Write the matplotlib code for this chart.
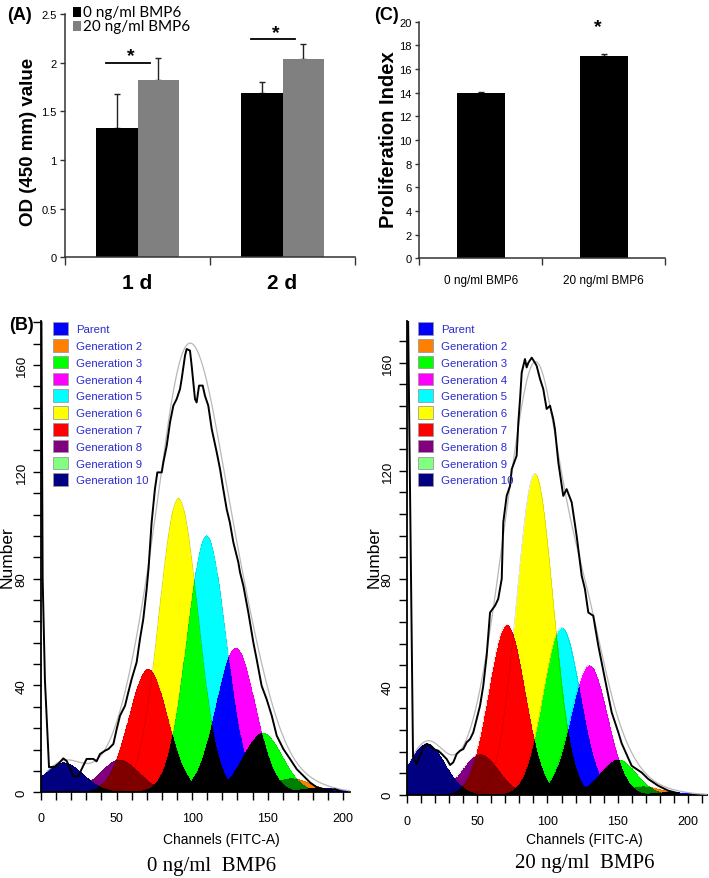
import numpy as np
import matplotlib
matplotlib.use("Agg")
import matplotlib.pyplot as plt
from matplotlib.patches import Patch, Rectangle
from matplotlib.ticker import MultipleLocator

W, H = 709, 879

# ---------------- panel A: OD values
days = ["1 d", "2 d"]
od_ctrl = [1.33, 1.69]
od_ctrl_err = [0.35, 0.11]
od_bmp6 = [1.82, 2.04]
od_bmp6_err = [0.23, 0.15]
sig_y = [2.0, 2.24]
series_names = ["0 ng/ml BMP6", "20 ng/ml BMP6"]

# ---------------- panel C: proliferation index
groups = ["0 ng/ml BMP6", "20 ng/ml BMP6"]
prolif_index = [13.97, 17.13]
prolif_err = [0.05, 0.12]

# ---------------- panel B: generation peaks (ModFit)
gen_names = ["Parent", "Generation 2", "Generation 3", "Generation 4", "Generation 5",
             "Generation 6", "Generation 7", "Generation 8", "Generation 9", "Generation 10"]
gen_colors = ["#0000ff", "#ff8000", "#00ff00", "#ff00ff", "#00ffff",
              "#ffff00", "#ff0000", "#800080", "#80ff80", "#000080"]
centers_0 = [185, 166, 147, 129, 109.6, 91, 71, 52, 33, 15]
heights_0 = [1.5, 5, 22, 54, 96, 110, 46, 12, 2, 11]
centers_20 = [187, 168, 150, 129.5, 110, 91, 71, 52, 33, 14.2]
heights_20 = [1, 3, 13, 48, 62, 119, 63, 15, 2, 19]
peak_sd = 13.0

# measured histogram (black line)
hist_ch_0 = [0.3, 1.1, 2.6, 5.3, 9.3, 12, 14.8, 17, 21.4, 24.7, 26.9, 30.2, 34.6, 36.8, 39, 42.4,
             44.6, 47.9, 50.1, 52.3, 55.6, 57.8, 60, 63.3, 65.5, 67.7, 69.9, 71.2, 73.2, 75.4, 77,
             79.9, 81, 83.2, 85.4, 87.6, 89.8, 92, 93.1, 95.3, 96.4, 98.6, 99.7, 101.9, 103, 104.6,
             107, 108.5, 110.7, 113, 116.3, 118.5, 120.6, 122.9, 125, 127.3, 130.6, 131.7, 133.9,
             137.2, 140.5, 142.7, 146, 149.3, 152.7, 156, 160.4, 164.8, 169.2, 173.6, 178, 182.4,
             189, 194.6, 198]
hist_n_0 = [176, 80, 42, 9.4, 9.6, 11, 12.7, 11.7, 6.2, 6, 8.7, 12.5, 12.5, 11.6, 14.3, 15.6,
            16.2, 18.1, 23.7, 28.7, 32.4, 37.5, 42.4, 48.7, 57.4, 64.9, 76, 84, 101, 113.6, 119.8,
            119.8, 123.6, 129.8, 138.6, 144.8, 147.3, 151, 154.8, 163.5, 166, 165.4, 159.8, 147.3,
            146, 152.3, 152.3, 148.5, 144.8, 136, 127.3, 121, 113.6, 106, 101, 93.6, 86.1, 82.4,
            77.4, 67.4, 56.2, 49.9, 39.9, 34.9, 28.7, 21.2, 16.2, 12.5, 8.7, 6.2, 3.7, 1.9, 0.9,
            1.2, 0.4]
hist_ch_20 = [1.0, 4.5, 7.1, 9.4, 11.8, 14.2, 16.5, 18.9, 22.4, 24.9, 28.4, 30.8, 33.1, 35.5, 37.9,
              40.2, 42.6, 45, 47.3, 49.7, 52.1, 54.4, 56.8, 59.2, 62.7, 65, 67.5, 68.6, 71, 73.4,
              74.6, 78.1, 79.3, 80.5, 81.7, 84, 85.2, 86.4, 88.8, 91.1, 92.3, 94.7, 97, 99.4, 101.8,
              104.1, 105.3, 107.7, 111.2, 113.6, 117.2, 120.7, 124.3, 126.6, 129, 132.5, 136.1,
              140.8, 145.6, 150.3, 152.7, 159.8, 166.9, 171.6, 178.7, 185.8, 192.9]
hist_n_20 = [176, 14, 11.4, 14.5, 17.5, 18.8, 18.1, 16.9, 16.3, 15.1, 13.2, 11.0, 12.0, 15.1, 16.3,
             16.9, 19.4, 20.6, 23.1, 28, 33, 40.4, 51.5, 67.5, 70, 72.5, 80, 100.9, 110.7, 114.4,
             120.6, 125.6, 137.9, 146.5, 156.4, 161.4, 158.3, 160, 161.9, 160, 158.9, 154, 150.3,
             142.9, 144.1, 139.1, 135.4, 123.1, 110.7, 113.2, 108.3, 95.9, 81.1, 76.2, 67.5, 66.3,
             55.2, 42.9, 30.5, 23.1, 19, 10.7, 8.2, 5.8, 3.3, 1.5, 0.5]

ARIAL = "Liberation Sans"


def px_box(l, t, r, b):
    return [l / W, 1 - b / H, (r - l) / W, (b - t) / H]


def fx(px):
    return px / W


def fy(py):
    return 1 - py / H


fig = plt.figure(figsize=(W / 100, H / 100), dpi=100)
fig.patch.set_facecolor("white")

# ================= panel A
axA = fig.add_axes(px_box(65, 15, 355, 258.3))
x = np.arange(len(days))
w = 0.286
axA.bar(x - w / 2, od_ctrl, w, color="black", zorder=2)
axA.bar(x + w / 2, od_bmp6, w, color="#808080", zorder=2)
axA.errorbar(x - w / 2, od_ctrl, yerr=[np.zeros(2), od_ctrl_err], fmt="none",
             ecolor="#222222", elinewidth=1.0, capsize=2.5, capthick=1.0, zorder=1)
axA.errorbar(x + w / 2, od_bmp6, yerr=[np.zeros(2), od_bmp6_err], fmt="none",
             ecolor="#222222", elinewidth=1.0, capsize=2.5, capthick=1.0, zorder=1)
for i, yy in enumerate(sig_y):
    axA.plot([i - 0.215, i + 0.085], [yy, yy], color="black", lw=1.3)
    axA.text(i - 0.045, yy + 0.07, "*", ha="center", va="center", fontsize=14,
             fontweight="bold", family=ARIAL)
axA.set_xlim(-0.5, 1.5)
axA.set_ylim(0, 2.5)
axA.set_yticks(np.arange(0, 2.51, 0.5))
axA.set_yticklabels(["0", "0.5", "1", "1.5", "2", "2.5"], family=ARIAL, fontsize=8)
axA.set_xticks(x)
axA.set_xticklabels(days, family=ARIAL, fontsize=15, fontweight="bold")
axA.set_xticks([-0.5, 0.5, 1.5], minor=True)
axA.tick_params(axis="x", which="major", length=0, pad=11)
axA.tick_params(axis="x", which="minor", length=6, width=1, color="#333333")
axA.tick_params(axis="y", length=3.6, width=1, color="#333333", pad=2.5)
for s in ["top", "right"]:
    axA.spines[s].set_visible(False)
for s in ["left", "bottom"]:
    axA.spines[s].set_color("#333333")
    axA.spines[s].set_linewidth(1.1)

# legend for A (drawn by hand to keep the tight row spacing)
for j, (name, col) in enumerate(zip(series_names, ["black", "#808080"])):
    top = 8.3 + j * 13.6
    fig.add_artist(Rectangle((fx(73.3), fy(top + 10)), 7.4 / W, 10 / H,
                             transform=fig.transFigure, facecolor=col, edgecolor="none"))
    fig.text(fx(83), fy(top + 5.2), name, family="Lato", fontsize=11, ha="left", va="center")

fig.text(fx(19), fy(15), "(A)", fontsize=13, fontweight="bold", family=ARIAL,
         ha="center", va="center")
fig.text(fx(29), fy(141.5), "OD (450 mm) value", rotation=90, fontsize=13.5,
         fontweight="bold", family=ARIAL, ha="center", va="center")

# ================= panel C
axC = fig.add_axes(px_box(419.3, 22.7, 665, 259.3))
xc = np.arange(len(groups))
axC.bar(xc, prolif_index, 0.39, color="black", zorder=2)
axC.errorbar(xc, prolif_index, yerr=[np.zeros(2), prolif_err], fmt="none",
             ecolor="#222222", elinewidth=1.0, capsize=2.0, zorder=1)
axC.text(0.956, 19.6, "*", ha="center", va="center", fontsize=14, fontweight="bold",
         family=ARIAL)
axC.set_xlim(-0.5, 1.5)
axC.set_ylim(0, 20)
axC.set_yticks(np.arange(0, 21, 2))
axC.set_yticklabels([str(v) for v in range(0, 21, 2)], family=ARIAL, fontsize=8)
axC.set_xticks(xc)
axC.set_xticklabels(groups, family=ARIAL, fontsize=8.5)
axC.set_xticks([-0.5, 0.5, 1.5], minor=True)
axC.tick_params(axis="x", which="major", length=0, pad=11)
axC.tick_params(axis="x", which="minor", length=5, width=1, color="#333333")
axC.tick_params(axis="y", length=3, width=1, color="#333333", pad=2.5)
for s in ["top", "right"]:
    axC.spines[s].set_visible(False)
for s in ["left", "bottom"]:
    axC.spines[s].set_color("#333333")
    axC.spines[s].set_linewidth(1.1)
fig.text(fx(386), fy(15), "(C)", fontsize=13, fontweight="bold", family=ARIAL,
         ha="center", va="center")
fig.text(fx(388), fy(140), "Proliferation Index", rotation=90, fontsize=14.5,
         fontweight="bold", family=ARIAL, ha="center", va="center")


# ================= panel B
def hex_rgb(c):
    return np.array([int(c[k:k + 2], 16) for k in (1, 3, 5)], dtype=np.uint8)


def draw_modfit(ax, centers, heights, hist_ch, hist_n, xmax, ymax):
    xs = np.linspace(0, xmax, 900)
    ys = np.linspace(0, ymax, 1000)
    img = np.full((len(ys), len(xs), 3), 255, dtype=np.uint8)
    fit = np.zeros_like(xs)
    for c, h, col in zip(centers, heights, gen_colors):
        g = h * np.exp(-0.5 * ((xs - c) / peak_sd) ** 2)
        fit += g
        # overlapping generations are combined like ModFit does (bitwise AND of colours)
        img[ys[:, None] < g[None, :]] &= hex_rgb(col)
        ax.plot(xs, g, color="black", lw=0.4, alpha=0.22, zorder=2)
    ax.imshow(img, origin="lower", extent=[0, xmax, 0, ymax], aspect="auto",
              interpolation="nearest", zorder=1)
    ax.plot(xs[xs > 4], fit[xs > 4], color="#b8b8b8", lw=0.9, zorder=3)
    ax.plot(hist_ch, hist_n, color="black", lw=1.4, zorder=4)
    ax.set_xlim(0, xmax)
    ax.set_ylim(0, ymax)
    ax.xaxis.set_major_locator(MultipleLocator(50))
    ax.xaxis.set_minor_locator(MultipleLocator(10))
    ax.yaxis.set_major_locator(MultipleLocator(40))
    ax.yaxis.set_minor_locator(MultipleLocator(8))
    ax.tick_params(axis="x", which="both", length=5.8, width=1.0, pad=8.5)
    ax.tick_params(axis="y", which="both", length=5.5, width=1.0, pad=4, labelrotation=90)
    for lab in ax.get_xticklabels():
        lab.set_family(ARIAL)
        lab.set_fontsize(9)
    for lab in ax.get_yticklabels():
        lab.set_family(ARIAL)
        lab.set_fontsize(9.5)
        lab.set_va("center")
    for s in ["top", "right"]:
        ax.spines[s].set_visible(False)
    for s in ["left", "bottom"]:
        ax.spines[s].set_linewidth(1.3)
    handles = [Patch(facecolor=c, edgecolor="#9a9a9a", lw=0.6) for c in gen_colors]
    return handles


axB0 = fig.add_axes(px_box(41, 321.7, 350, 793.3))
hB = draw_modfit(axB0, centers_0, heights_0, hist_ch_0, hist_n_0, 204.5, 176.6)
axB1 = fig.add_axes(px_box(406.7, 321.7, 707, 795.7))
draw_modfit(axB1, centers_20, heights_20, hist_ch_20, hist_n_20, 213.3, 175.6)

for ax, lx in [(axB0, 53.3), (axB1, 418.3)]:
    ax.legend(hB, gen_names, loc="upper left", bbox_to_anchor=(fx(lx), fy(323.3)),
              bbox_transform=fig.transFigure, frameon=False,
              prop={"family": ARIAL, "size": 8.2}, labelcolor="#2b2bcf",
              handlelength=1.32, handleheight=1.32, handletextpad=0.65,
              labelspacing=0.37, borderpad=0, borderaxespad=0)

fig.text(fx(22), fy(325), "(B)", fontsize=13, fontweight="bold", family=ARIAL,
         ha="center", va="center")
for xx in [7.5, 374]:
    fig.text(fx(xx), fy(557), "Number", rotation=90, fontsize=12.5, family=ARIAL,
             ha="center", va="center")
fig.text(fx(221), fy(840), "Channels (FITC-A)", fontsize=10, family=ARIAL,
         ha="center", va="center")
fig.text(fx(584), fy(840), "Channels (FITC-A)", fontsize=10, family=ARIAL,
         ha="center", va="center")
fig.text(fx(212), fy(867), "0 ng/ml  BMP6", fontsize=15, family="Liberation Serif",
         ha="center", va="center")
fig.text(fx(585), fy(864), "20 ng/ml  BMP6", fontsize=15, family="Liberation Serif",
         ha="center", va="center")

fig.savefig("out.png", dpi=100, facecolor="white")
